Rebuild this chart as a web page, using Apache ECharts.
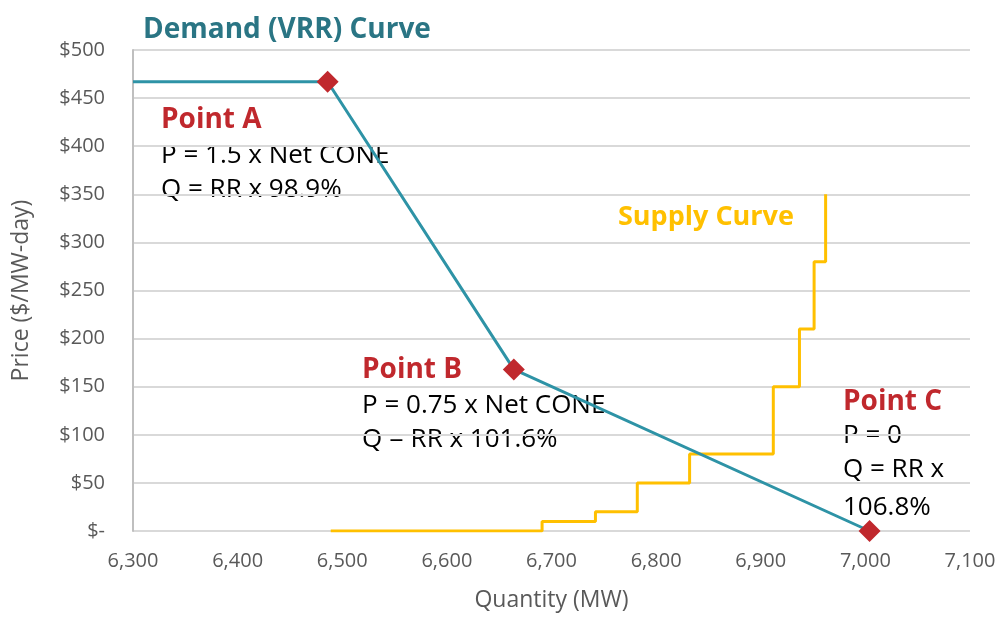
<!DOCTYPE html>
<html>
<head>
<meta charset="utf-8">
<script src="https://cdn.jsdelivr.net/npm/echarts@6/dist/echarts.min.js"></script>
<style>
  html, body { margin: 0; padding: 0; background: #fff; }
  #chart { width: 1003px; height: 618px; }
</style>
</head>
<body>
<div id="chart"></div>
<script>
// demand (VRR) curve: flat cap, then Point A, Point B, Point C
const demandCurve = [[6300, 467], [6486, 467], [6664, 168], [7004, 0]]
const demandPoints = [[6486, 467], [6664, 168], [7004, 0]]
// supply curve steps: [quantity, new price level]
const supplyCurve = [[6489, 0], [6691, 10], [6742, 20], [6782, 50], [6832, 80],
  [6912, 150], [6937, 210], [6951, 280], [6962, 350]]

const xTicks = [6300, 7100, 100]
const yTicks = [0, 500, 50]

const font = '"Open Sans", sans-serif'
const chart = echarts.init(document.getElementById('chart'))

function txt(left, top, text, size, color, weight) {
  return {
    type: 'text', left, top,
    style: { text, fontSize: size, fill: color, fontWeight: weight || 'normal', fontFamily: font }
  }
}

chart.setOption({
  animation: false,
  grid: { left: 133, right: 33, top: 50, bottom: 87 },
  xAxis: {
    type: 'value',
    min: xTicks[0], max: xTicks[1], interval: xTicks[2],
    name: 'Quantity (MW)', nameLocation: 'middle', nameGap: 58,
    nameTextStyle: { fontSize: 23, color: '#595959', fontFamily: font },
    axisLine: { show: false },
    axisTick: { show: false },
    axisLabel: {
      fontSize: 20, color: '#595959', fontFamily: font, margin: 20,
      formatter: v => v.toLocaleString('en-US')
    },
    splitLine: { show: false }
  },
  yAxis: {
    type: 'value',
    min: yTicks[0], max: yTicks[1], interval: yTicks[2],
    name: 'Price ($/MW-day)', nameLocation: 'middle', nameGap: 100,
    nameTextStyle: { fontSize: 23, color: '#595959', fontFamily: font },
    axisLine: { show: true, lineStyle: { color: '#BFBFBF', width: 2 } },
    axisTick: { show: false },
    axisLabel: {
      fontSize: 20, color: '#595959', fontFamily: font, margin: 28,
      formatter: v => v === 0 ? '$-' : '$' + v
    },
    splitLine: { lineStyle: { color: '#D9D9D9', width: 2 } }
  },
  graphic: [
    txt(143, 16, 'Demand (VRR) Curve', 28, '#2A7584', 'bold'),
    txt(161, 106, 'Point A', 28, '#C0282D', 'bold'),
    txt(161, 143, 'P = 1.5 x Net CONE', 26, '#000'),
    txt(161, 177, 'Q = RR x 98.9%', 26, '#000'),
    txt(362, 356, 'Point B', 28, '#C0282D', 'bold'),
    txt(362, 393, 'P = 0.75 x Net CONE', 26, '#000'),
    txt(362, 427, 'Q = RR x 101.6%', 26, '#000'),
    txt(843, 388, 'Point C', 28, '#C0282D', 'bold'),
    txt(843, 423, 'P = 0', 26, '#000'),
    txt(843, 457, 'Q = RR x', 26, '#000'),
    txt(843, 495, '106.8%', 26, '#000'),
    txt(618, 204, 'Supply Curve', 27, '#FFC000', 'bold')
  ],
  series: [
    {
      type: 'line',
      data: supplyCurve,
      step: 'end',
      symbol: 'none',
      lineStyle: { color: '#FFC000', width: 3 },
      z: 2
    },
    {
      type: 'line',
      data: demandCurve,
      symbol: 'none',
      lineStyle: { color: '#2E93A6', width: 3 },
      z: 3
    },
    {
      type: 'scatter',
      data: demandPoints,
      symbol: 'diamond',
      symbolSize: 22,
      itemStyle: { color: '#C0282D', opacity: 1 },
      z: 4
    }
  ]
})
</script>
</body>
</html>
